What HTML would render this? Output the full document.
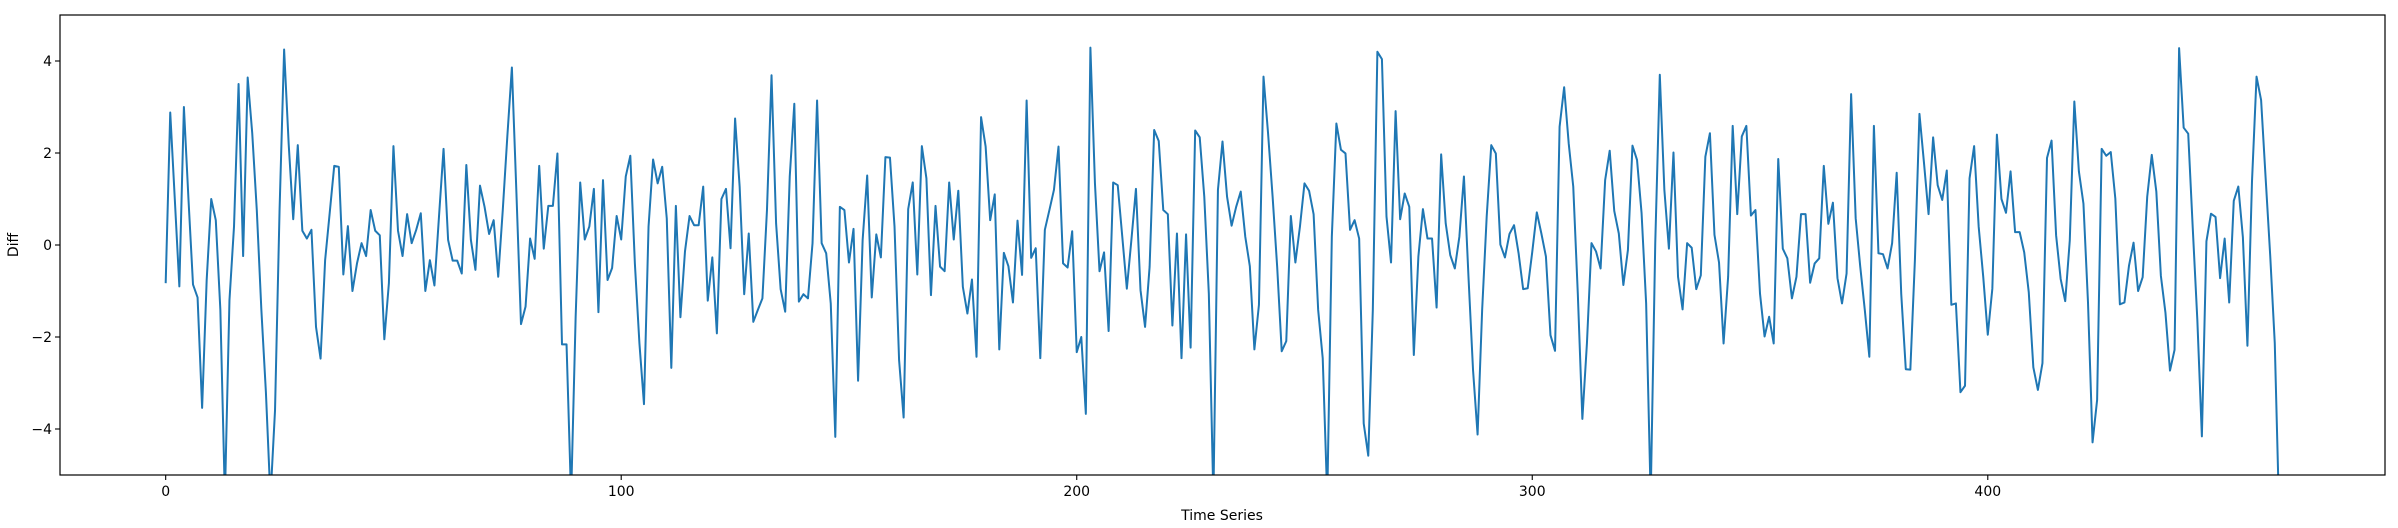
<!DOCTYPE html>
<html><head><meta charset="utf-8"><title>Diff time series</title>
<style>
html,body{margin:0;padding:0;background:#fff;}
svg{display:block;}
text{font-family:"DejaVu Sans","Liberation Sans",sans-serif;font-size:14px;fill:#000;}
</style></head>
<body>
<svg id="chart" width="2398" height="528" xmlns="http://www.w3.org/2000/svg">
  <defs><clipPath id="plotclip"><rect x="60" y="15" width="2325" height="460"/></clipPath></defs>
  <rect x="60" y="15" width="2325" height="460" fill="#fff"/>
  <g id="xticks"></g>
  <g id="yticks"></g>
  <g clip-path="url(#plotclip)"><path id="series" fill="none" stroke="#1f77b4" stroke-width="2" stroke-linejoin="round"/></g>
  <rect x="60" y="15" width="2325" height="460" fill="none" stroke="#000" stroke-width="1.2"/>
  <text x="1222" y="520" text-anchor="middle">Time Series</text>
  <text x="18" y="245" text-anchor="middle" transform="rotate(-90 18 245)">Diff</text>
</svg>
<script>
const xTicks = [0, 100, 200, 300, 400];
const yTicks = [-4, -2, 0, 2, 4];
const yTickLabels = ["\u22124", "\u22122", "0", "2", "4"];
const diffValues = [
-0.83,2.88,1.0,-0.9,3.0,1.0,-0.86,-1.14,-3.54,-0.76,
1.0,0.54,-1.4,-5.5,-1.2,0.4,3.5,-0.24,3.64,2.43,
0.76,-1.4,-3.2,-5.5,-3.6,0.76,4.25,2.2,0.56,2.17,
0.31,0.14,0.33,-1.78,-2.47,-0.33,0.69,1.72,1.70,-0.64,
0.41,-1.0,-0.4,0.04,-0.24,0.76,0.31,0.21,-2.05,-0.83,
2.15,0.31,-0.24,0.67,0.04,0.33,0.69,-1.0,-0.33,-0.88,
0.62,2.09,0.11,-0.34,-0.34,-0.62,1.74,0.11,-0.54,1.29,
0.83,0.24,0.54,-0.69,0.76,2.36,3.86,1.12,-1.72,-1.34,
0.14,-0.30,1.72,-0.08,0.85,0.85,1.99,-2.16,-2.16,-5.5,
-1.56,1.36,0.12,0.4,1.22,-1.46,1.41,-0.76,-0.5,
0.63,0.12,1.49,1.94,-0.4,-2.14,-3.46,0.4,1.86,1.34,1.70,
0.58,-2.67,0.85,-1.57,-0.14,0.63,0.43,0.43,1.27,-1.21,
-0.27,-1.92,1.0,1.22,-0.07,2.75,1.27,-1.07,0.25,-1.67,
-1.41,-1.16,0.76,3.69,0.47,-0.96,-1.45,1.49,3.07,-1.23,
-1.07,-1.16,0.04,3.14,0.04,-0.18,-1.27,-4.17,0.83,0.76,
-0.38,0.35,-2.95,0.11,1.51,-1.14,0.23,-0.27,1.91,1.90,
0.4,-2.5,-3.75,0.78,1.36,-0.64,2.15,1.45,-1.09,0.85,
-0.47,-0.57,1.36,0.12,1.18,-0.91,-1.49,-0.75,-2.43,2.78,
2.14,0.54,1.10,-2.27,-0.17,-0.46,-1.25,0.53,-0.65,3.14,
-0.28,-0.07,-2.46,0.33,0.76,1.2,2.14,-0.4,-0.49,0.3,
-2.33,-2.0,-3.67,4.29,1.34,-0.57,-0.16,-1.87,1.36,1.30,
0.18,-0.95,0.11,1.22,-0.98,-1.78,-0.47,2.5,2.26,0.76,
0.67,-1.75,0.25,-2.46,0.23,-2.23,2.49,2.34,1.05,-1.06,
-5.5,1.2,2.25,1.05,0.42,0.83,1.16,0.18,-0.46,-2.27,
-1.30,3.66,2.43,1.05,-0.47,-2.31,-2.09,0.63,-0.38,0.4,
1.34,1.18,0.67,-1.41,-2.46,-5.5,0.18,2.64,2.07,1.99,
0.33,0.54,0.14,-3.88,-4.58,-1.41,4.20,4.04,0.62,-0.38,
2.91,0.56,1.12,0.83,-2.39,-0.25,0.78,0.14,0.14,-1.36,
1.97,0.47,-0.22,-0.51,0.18,1.49,-0.69,-2.72,-4.12,-1.41,
0.62,2.17,1.99,0.01,-0.27,0.24,0.43,-0.18,-0.96,-0.94,
-0.15,0.71,0.25,-0.25,-1.96,-2.30,2.57,3.43,2.21,1.27,
-1.06,-3.78,-2.14,0.04,-0.14,-0.51,1.41,2.05,0.74,0.25,
-0.87,-0.11,2.16,1.85,0.69,-1.27,-5.5,0.04,3.70,1.2,
-0.08,2.01,-0.69,-1.40,0.04,-0.06,-0.96,-0.66,1.92,2.43,
0.22,-0.38,-2.14,-0.69,2.59,0.67,2.36,2.59,0.64,0.76,
-1.06,-1.99,-1.56,-2.14,1.87,-0.08,-0.29,-1.16,-0.69,0.67,
0.67,-0.82,-0.40,-0.29,1.72,0.46,0.92,-0.72,-1.27,-0.62,
3.28,0.58,-0.47,-1.41,-2.43,2.59,-0.18,-0.20,-0.51,0.04,
1.57,-1.06,-2.70,-2.71,-0.33,2.85,1.78,0.67,2.34,1.30,
0.98,1.62,-1.30,-1.27,-3.20,-3.06,1.45,2.15,0.4,-0.69,
-1.95,-0.95,2.40,1.0,0.70,1.60,0.28,0.28,-0.16,-1.03,
-2.66,-3.15,-2.57,1.89,2.27,0.21,-0.74,-1.22,0.10,3.12,
1.60,0.90,-1.25,-4.29,-3.37,2.09,1.94,2.02,1.01,-1.29,
-1.25,-0.45,0.05,-1.0,-0.70,1.05,1.96,1.16,-0.67,-1.47,
-2.73,-2.28,4.28,2.55,2.42,0.36,-1.62,-4.16,0.08,0.68,
0.61,-0.72,0.14,-1.25,0.96,1.27,0.17,-2.19,1.38,3.66,
3.15,1.45,-0.23,-2.13,-6.0
];

const L = 60, R = 2385, T = 15, B = 475;
const n = diffValues.length;
const xMin = -0.05 * (n - 1), xMax = (n - 1) * 1.05;
const yMin = -5, yMax = 5;
function xScale(i) { return L + (i - xMin) / (xMax - xMin) * (R - L); }
function yScale(v) { return B - (v - yMin) / (yMax - yMin) * (B - T); }
const NS = "http://www.w3.org/2000/svg";

let d = "";
diffValues.forEach(function (v, i) {
  d += (i === 0 ? "M" : "L") + xScale(i).toFixed(2) + "," + yScale(v).toFixed(2);
});
document.getElementById("series").setAttribute("d", d);

const gx = document.getElementById("xticks");
xTicks.forEach(function (t) {
  const x = xScale(t);
  const ln = document.createElementNS(NS, "line");
  
  
  ln.setAttribute("x1", x); ln.setAttribute("x2", x);
  ln.setAttribute("y1", B); ln.setAttribute("y2", B + 5);
  ln.setAttribute("stroke", "#000"); ln.setAttribute("stroke-width", "1.1");
  gx.appendChild(ln);
  const tx = document.createElementNS(NS, "text");
  
  
  tx.setAttribute("x", x); tx.setAttribute("y", B + 21);
  tx.setAttribute("text-anchor", "middle");
  tx.textContent = String(t);
  gx.appendChild(tx);
});

const gy = document.getElementById("yticks");
yTicks.forEach(function (t, k) {
  const y = yScale(t);
  const ln = document.createElementNS(NS, "line");
  
  
  ln.setAttribute("x1", L - 5); ln.setAttribute("x2", L);
  ln.setAttribute("y1", y); ln.setAttribute("y2", y);
  ln.setAttribute("stroke", "#000"); ln.setAttribute("stroke-width", "1.1");
  gy.appendChild(ln);
  const tx = document.createElementNS(NS, "text");
  
  
  tx.setAttribute("x", L - 8); tx.setAttribute("y", y + 5);
  tx.setAttribute("text-anchor", "end");
  tx.textContent = yTickLabels[k];
  gy.appendChild(tx);
});
</script>
</body></html>
